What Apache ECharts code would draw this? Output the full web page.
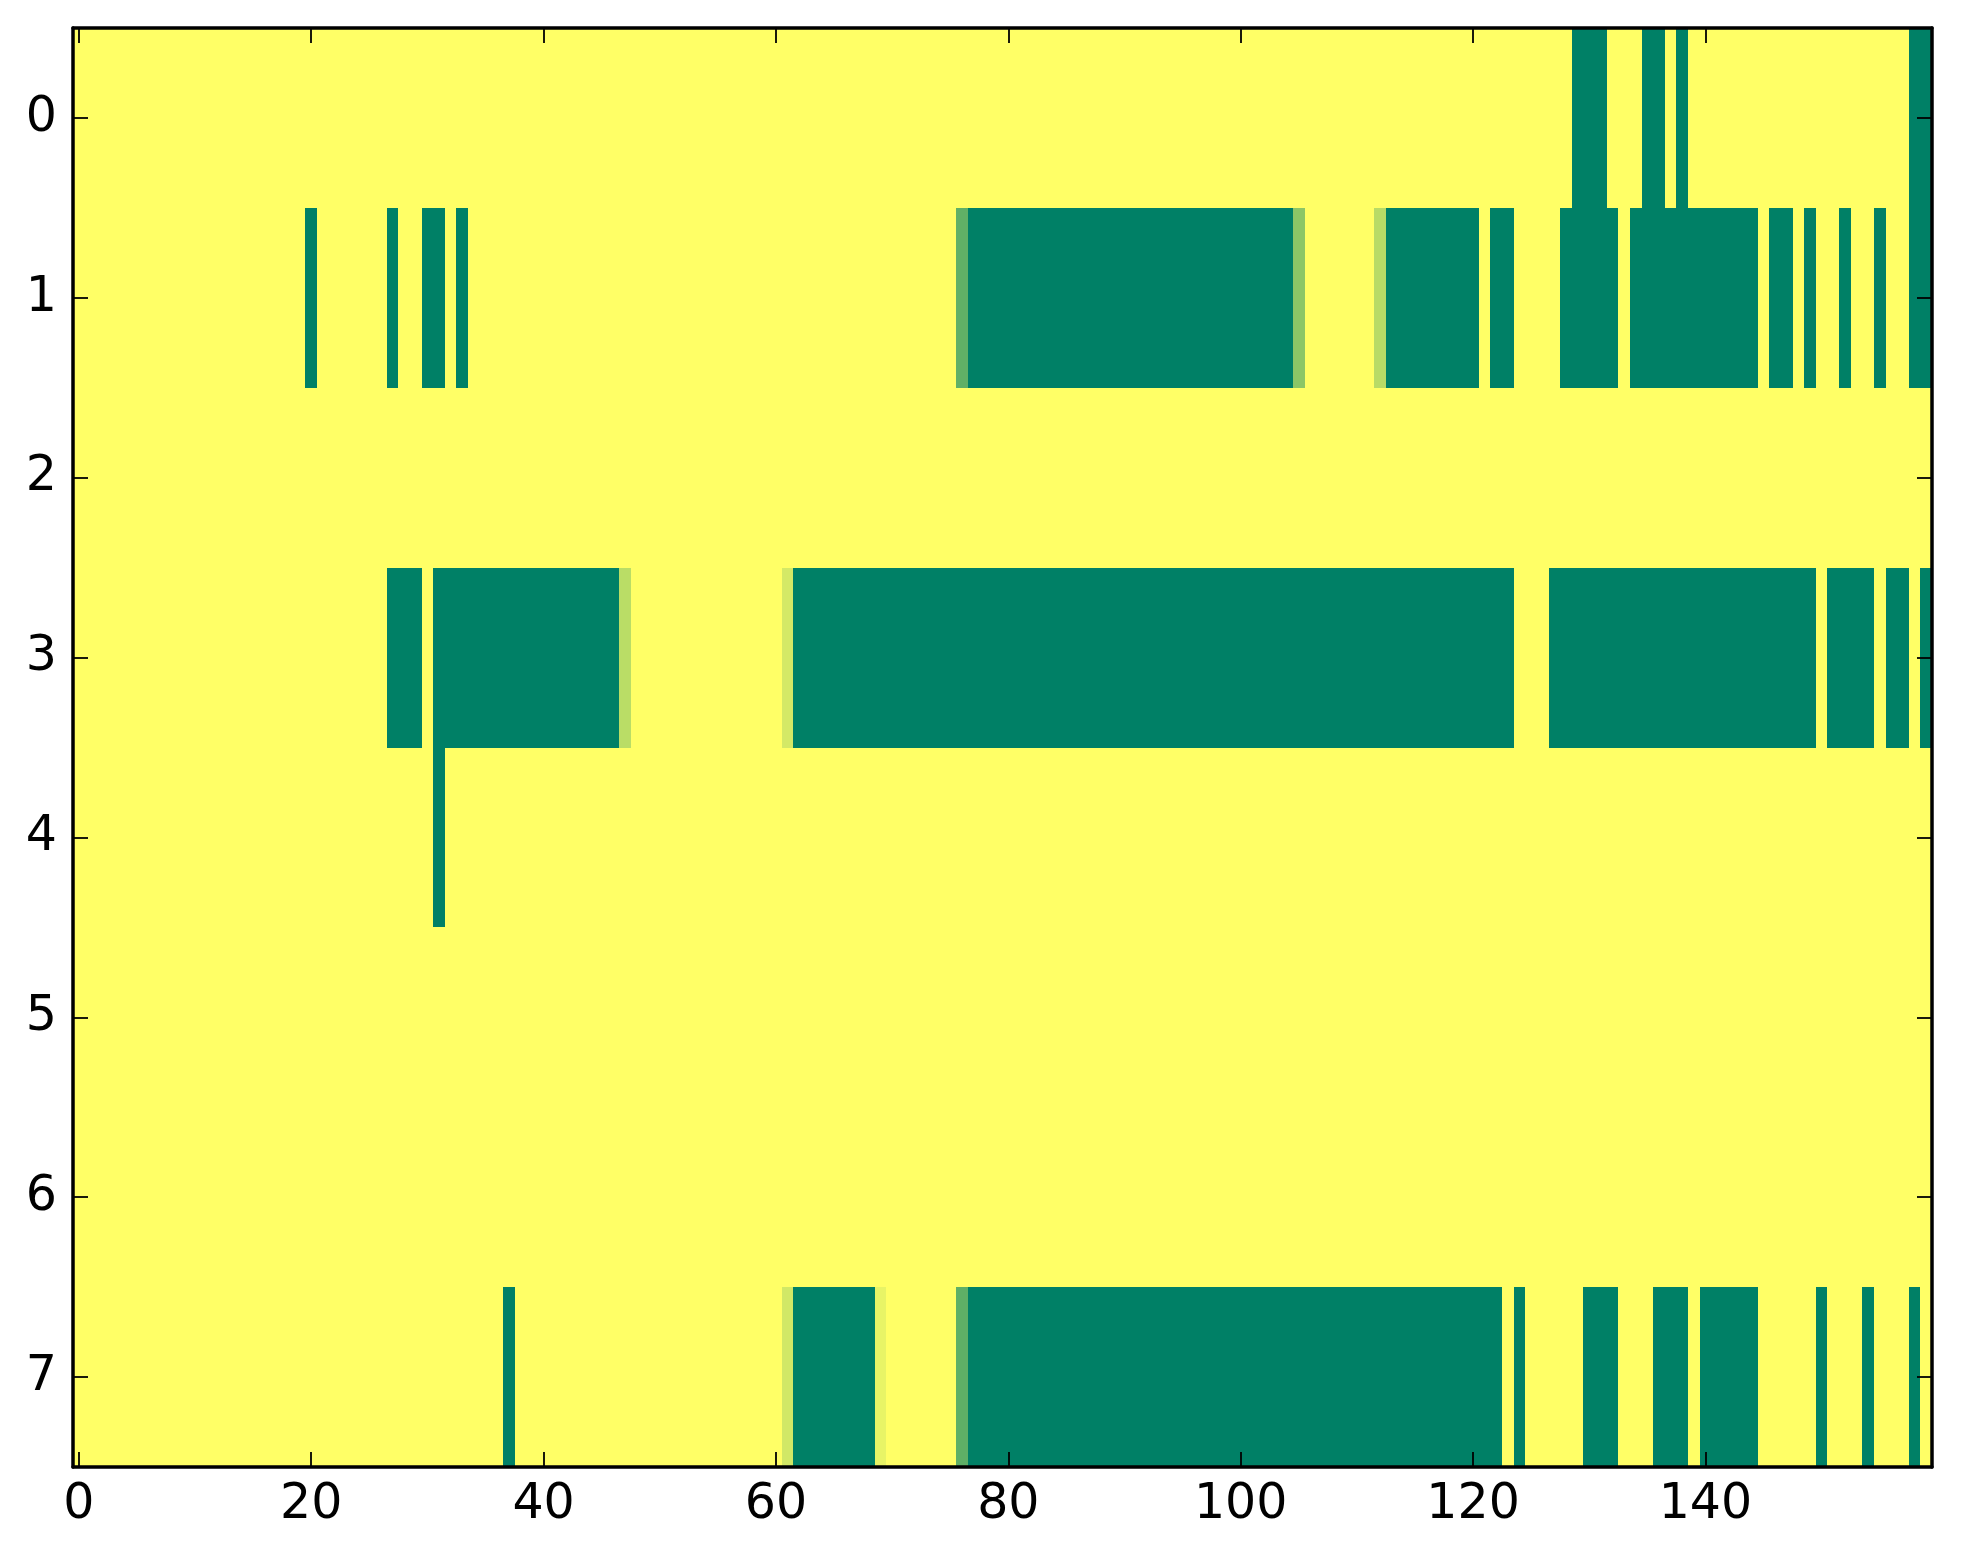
<!DOCTYPE html>
<html>
<head>
<meta charset="utf-8">
<script src="https://cdn.jsdelivr.net/npm/echarts@6/dist/echarts.min.js"></script>
<style>
html,body{margin:0;padding:0;background:#fff;}
#chart{width:1963px;height:1564px;}
</style>
</head>
<body>
<div id="chart"></div>
<script>
// column labels 0..159 (categories)
var columns = [];
for (var c = 0; c < 160; c++) columns.push(String(c));
var rowLabels = ['0','1','2','3','4','5','6','7'];
var xTickLabels = ['0','20','40','60','80','100','120','140'];

// values per row, 160 columns each (20 per line)
var row0 = [
1,1,1,1,1,1,1,1,1,1,1,1,1,1,1,1,1,1,1,1,
1,1,1,1,1,1,1,1,1,1,1,1,1,1,1,1,1,1,1,1,
1,1,1,1,1,1,1,1,1,1,1,1,1,1,1,1,1,1,1,1,
1,1,1,1,1,1,1,1,1,1,1,1,1,1,1,1,1,1,1,1,
1,1,1,1,1,1,1,1,1,1,1,1,1,1,1,1,1,1,1,1,
1,1,1,1,1,1,1,1,1,1,1,1,1,1,1,1,1,1,1,1,
1,1,1,1,1,1,1,1,1,0,0,0,1,1,1,0,0,1,0,1,
1,1,1,1,1,1,1,1,1,1,1,1,1,1,1,1,1,1,0,0];
var row1 = [
1,1,1,1,1,1,1,1,1,1,1,1,1,1,1,1,1,1,1,1,
0,1,1,1,1,1,1,0,1,1,0,0,1,0,1,1,1,1,1,1,
1,1,1,1,1,1,1,1,1,1,1,1,1,1,1,1,1,1,1,1,
1,1,1,1,1,1,1,1,1,1,1,1,1,1,1,1,0.375,0,0,0,
0,0,0,0,0,0,0,0,0,0,0,0,0,0,0,0,0,0,0,0,
0,0,0,0,0,0.55,1,1,1,1,1,1,0.72,0,0,0,0,0,0,0,
0,1,0,0,1,1,1,1,0,0,0,0,0,1,0,0,0,0,0,0,
0,0,0,0,0,1,0,0,1,0,1,1,0,1,1,0,1,1,0,0];
var row2 = [
1,1,1,1,1,1,1,1,1,1,1,1,1,1,1,1,1,1,1,1,
1,1,1,1,1,1,1,1,1,1,1,1,1,1,1,1,1,1,1,1,
1,1,1,1,1,1,1,1,1,1,1,1,1,1,1,1,1,1,1,1,
1,1,1,1,1,1,1,1,1,1,1,1,1,1,1,1,1,1,1,1,
1,1,1,1,1,1,1,1,1,1,1,1,1,1,1,1,1,1,1,1,
1,1,1,1,1,1,1,1,1,1,1,1,1,1,1,1,1,1,1,1,
1,1,1,1,1,1,1,1,1,1,1,1,1,1,1,1,1,1,1,1,
1,1,1,1,1,1,1,1,1,1,1,1,1,1,1,1,1,1,1,1];
var row3 = [
1,1,1,1,1,1,1,1,1,1,1,1,1,1,1,1,1,1,1,1,
1,1,1,1,1,1,1,0,0,0,1,0,0,0,0,0,0,0,0,0,
0,0,0,0,0,0,0,0.73,1,1,1,1,1,1,1,1,1,1,1,1,
1,0.83,0,0,0,0,0,0,0,0,0,0,0,0,0,0,0,0,0,0,
0,0,0,0,0,0,0,0,0,0,0,0,0,0,0,0,0,0,0,0,
0,0,0,0,0,0,0,0,0,0,0,0,0,0,0,0,0,0,0,0,
0,0,0,0,1,1,1,0,0,0,0,0,0,0,0,0,0,0,0,0,
0,0,0,0,0,0,0,0,0,0,1,0,0,0,0,1,0,0,1,0];
var row4 = [
1,1,1,1,1,1,1,1,1,1,1,1,1,1,1,1,1,1,1,1,
1,1,1,1,1,1,1,1,1,1,1,0,1,1,1,1,1,1,1,1,
1,1,1,1,1,1,1,1,1,1,1,1,1,1,1,1,1,1,1,1,
1,1,1,1,1,1,1,1,1,1,1,1,1,1,1,1,1,1,1,1,
1,1,1,1,1,1,1,1,1,1,1,1,1,1,1,1,1,1,1,1,
1,1,1,1,1,1,1,1,1,1,1,1,1,1,1,1,1,1,1,1,
1,1,1,1,1,1,1,1,1,1,1,1,1,1,1,1,1,1,1,1,
1,1,1,1,1,1,1,1,1,1,1,1,1,1,1,1,1,1,1,1];
var row5 = [
1,1,1,1,1,1,1,1,1,1,1,1,1,1,1,1,1,1,1,1,
1,1,1,1,1,1,1,1,1,1,1,1,1,1,1,1,1,1,1,1,
1,1,1,1,1,1,1,1,1,1,1,1,1,1,1,1,1,1,1,1,
1,1,1,1,1,1,1,1,1,1,1,1,1,1,1,1,1,1,1,1,
1,1,1,1,1,1,1,1,1,1,1,1,1,1,1,1,1,1,1,1,
1,1,1,1,1,1,1,1,1,1,1,1,1,1,1,1,1,1,1,1,
1,1,1,1,1,1,1,1,1,1,1,1,1,1,1,1,1,1,1,1,
1,1,1,1,1,1,1,1,1,1,1,1,1,1,1,1,1,1,1,1];
var row6 = [
1,1,1,1,1,1,1,1,1,1,1,1,1,1,1,1,1,1,1,1,
1,1,1,1,1,1,1,1,1,1,1,1,1,1,1,1,1,1,1,1,
1,1,1,1,1,1,1,1,1,1,1,1,1,1,1,1,1,1,1,1,
1,1,1,1,1,1,1,1,1,1,1,1,1,1,1,1,1,1,1,1,
1,1,1,1,1,1,1,1,1,1,1,1,1,1,1,1,1,1,1,1,
1,1,1,1,1,1,1,1,1,1,1,1,1,1,1,1,1,1,1,1,
1,1,1,1,1,1,1,1,1,1,1,1,1,1,1,1,1,1,1,1,
1,1,1,1,1,1,1,1,1,1,1,1,1,1,1,1,1,1,1,1];
var row7 = [
1,1,1,1,1,1,1,1,1,1,1,1,1,1,1,1,1,1,1,1,
1,1,1,1,1,1,1,1,1,1,1,1,1,1,1,1,1,0,1,1,
1,1,1,1,1,1,1,1,1,1,1,1,1,1,1,1,1,1,1,1,
1,0.82,0,0,0,0,0,0,0,0.91,1,1,1,1,1,1,0.37,0,0,0,
0,0,0,0,0,0,0,0,0,0,0,0,0,0,0,0,0,0,0,0,
0,0,0,0,0,0,0,0,0,0,0,0,0,0,0,0,0,0,0,0,
0,0,0,1,0,1,1,1,1,1,0,0,0,1,1,1,0,0,0,1,
0,0,0,0,0,1,1,1,1,1,0,1,1,1,0,1,1,1,0,1];

var rows = [row0,row1,row2,row3,row4,row5,row6,row7];
var cells = [];
rows.forEach(function(r, yi){
  r.forEach(function(v, xi){ cells.push([xi, yi, v]); });
});

function isTick(idx){ return xTickLabels.indexOf(columns[idx]) >= 0; }

var axisLineStyle = {color:'#000', width:3.5};
var tickStyle = {color:'#000', width:1.8};
var FONT = 'DejaVu Sans';

function renderCell(params, api){
  var p = api.coord([api.value(0), api.value(1)]);
  var s = api.size([1, 1]);
  var x0 = Math.round(p[0] - s[0] / 2), x1 = Math.round(p[0] + s[0] / 2);
  var y0 = Math.round(p[1] - s[1] / 2), y1 = Math.round(p[1] + s[1] / 2);
  return {
    type:'rect',
    shape:{x:x0, y:y0, width:x1 - x0, height:y1 - y0},
    style:{fill: api.visual('color')}
  };
}

var chart = echarts.init(document.getElementById('chart'), null, {renderer:'canvas'});
chart.setOption({
  backgroundColor:'#ffffff',
  animation:false,
  grid:{left:73, right:31, top:28, bottom:97, containLabel:false, outerBoundsMode:'none'},
  xAxis:[{
    type:'category', data:columns, position:'bottom', z:10,
    axisLine:{show:true, onZero:false, lineStyle:axisLineStyle},
    axisTick:{show:true, inside:true, length:15, alignWithLabel:true,
      interval:function(i){return isTick(i);}, lineStyle:tickStyle},
    axisLabel:{show:true, interval:function(i){return isTick(i);}, margin:14,
      color:'#000', fontSize:49, fontFamily:FONT},
    splitLine:{show:false}
  },{
    type:'category', data:columns, position:'top', z:10,
    axisLine:{show:true, onZero:false, lineStyle:axisLineStyle},
    axisTick:{show:true, inside:true, length:15, alignWithLabel:true,
      interval:function(i){return isTick(i);}, lineStyle:tickStyle},
    axisLabel:{show:false},
    splitLine:{show:false}
  }],
  yAxis:[{
    type:'category', data:rowLabels, inverse:true, position:'left', z:10,
    axisLine:{show:true, onZero:false, lineStyle:axisLineStyle},
    axisTick:{show:true, inside:true, length:15, alignWithLabel:true, lineStyle:tickStyle},
    axisLabel:{show:true, margin:16, color:'#000', fontSize:49, fontFamily:FONT},
    splitLine:{show:false}
  },{
    type:'category', data:rowLabels, inverse:true, position:'right', z:10,
    axisLine:{show:true, onZero:false, lineStyle:axisLineStyle},
    axisTick:{show:true, inside:true, length:15, alignWithLabel:true, lineStyle:tickStyle},
    axisLabel:{show:false},
    splitLine:{show:false}
  }],
  visualMap:{
    type:'continuous', min:0, max:1, show:false, dimension:2, seriesIndex:0,
    inRange:{color:['#008066','#ffff66']}
  },
  series:[{
    type:'custom', xAxisIndex:0, yAxisIndex:0, data:cells,
    encode:{x:0, y:1},
    renderItem:renderCell,
    progressive:0, silent:true, z:2
  }]
});
</script>
</body>
</html>
